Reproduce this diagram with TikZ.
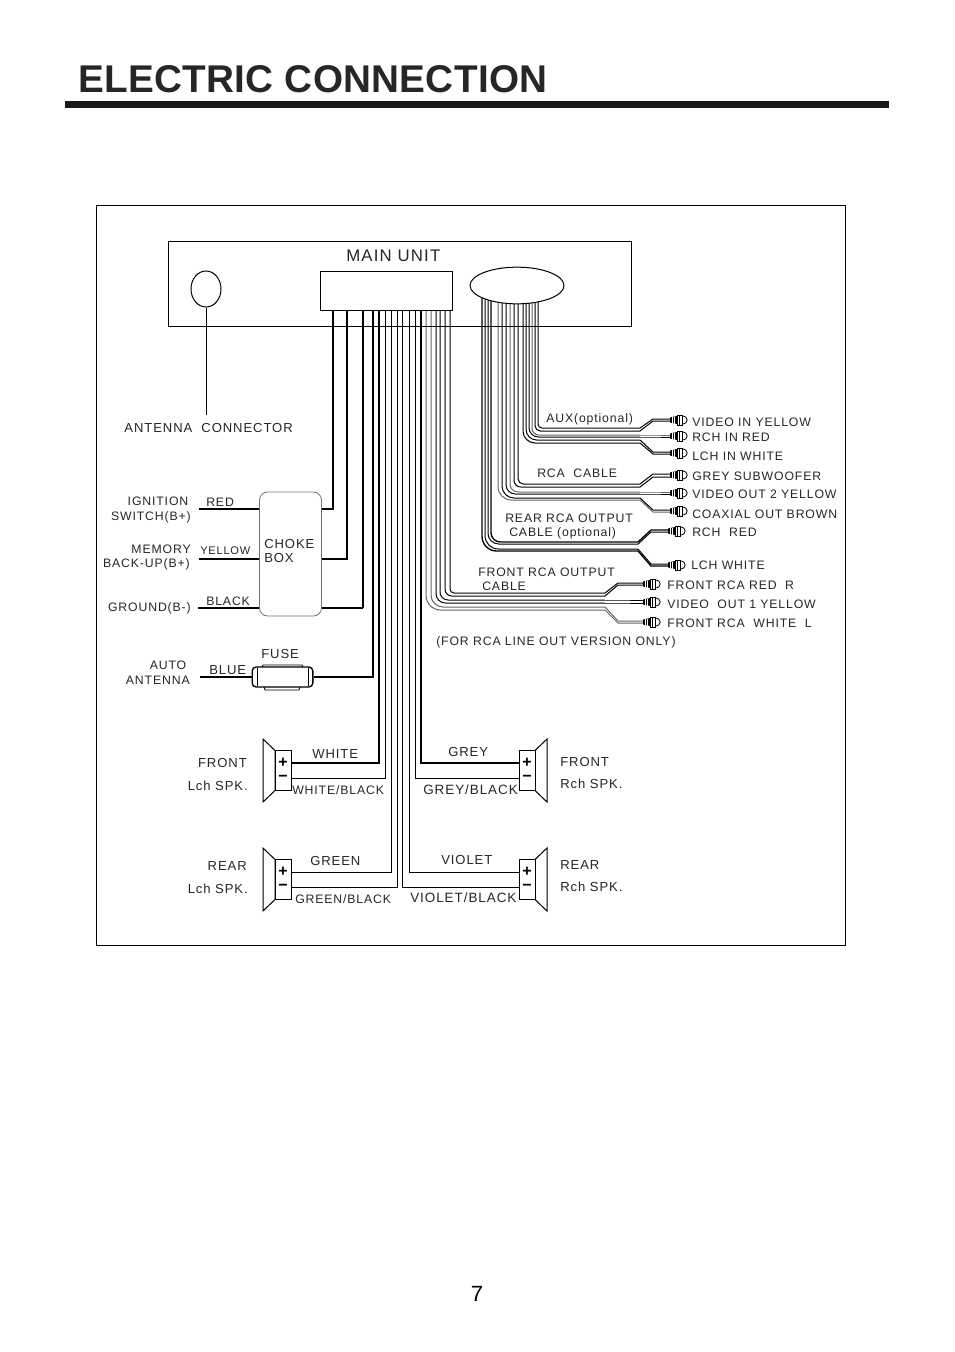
\documentclass[tikz,border=0pt]{standalone}
\usepackage{fontspec}
\setmainfont{Liberation Sans}
\newfontfamily\lblfont[LetterSpace=7]{Liberation Sans}
\newfontfamily\titlefont[LetterSpace=0.8]{Liberation Sans}
\usetikzlibrary{shapes.geometric,calc}

\tikzset{
  lbl/.style={inner sep=0pt, anchor=west, text height=7pt, text depth=0pt, text=black!85, font=\lblfont\fontsize{9.8}{11}\selectfont},
  lblsmall/.style={lbl, font=\lblfont\fontsize{9.2}{11}\selectfont},
  lblwide/.style={lbl, font=\lblfont\fontsize{10.1}{11}\selectfont},
  wire/.style={line width=0.75pt},
  greywire/.style={line width=0.75pt, black!60},
  midwire/.style={line width=1pt},
  heavywire/.style={line width=1.5pt},
  frameline/.style={line width=0.75pt},
  speaker/.pic={
    \draw[frameline, fill=white] (0,-31.5) -- (12,-20) -- (12,20) -- (0,31.5) -- cycle;
    \draw[frameline, fill=white] (12,-20) rectangle (28,20);
    \node[inner sep=0pt, font=\bfseries\fontsize{12}{12}\selectfont] (-sgnp) at (20,-8) {+};
    \node[inner sep=0pt, font=\bfseries\fontsize{12}{12}\selectfont] (-sgnm) at (20,8) {\char"2212};
  },
  rcaplug/.pic={
    \fill[black] (0,-2.5) -- (7,-4) -- (7,4) -- (0,2.5) -- cycle;
    \draw[white, line width=0.4pt] (2.3,-3) -- (2.3,3) (4.6,-3.5) -- (4.6,3.5);
    \draw[line width=0.6pt, fill=white] (7,-5) rectangle (12,5);
    \draw[line width=0.6pt] (9.5,-5) -- (9.5,5);
    \draw[line width=0.6pt] (12,-4) .. controls (19,-4) and (19,4) .. (12,4);
  }
}

% one wire of an rca bundle: x, y, end y, bend x, end x, radius, style
\newcommand{\rcawire}[7]{
  \coordinate (rcastart) at (#1,290);
  \coordinate (rcabend) at (#4,#2);
  \coordinate (rcaend) at (#5,#3);
  \draw[#7, rounded corners=#6pt] (rcastart) -- (#1,#2) -- (rcabend);
  \draw[#7] (rcabend) -- ($(#4,#3)+(13,0)$) -- (rcaend);
}

\begin{document}
\begin{tikzpicture}[x=0.75pt, y=-0.75pt]
\useasboundingbox (0,0) rectangle (954,1352);

% Title
\node[inner sep=0pt, anchor=base west, font=\titlefont\bfseries\fontsize{29}{30}\selectfont, text=black!85] (title) at (78,93) {ELECTRIC CONNECTION};
\fill[black!90] (65,101) rectangle (889,108);
\node[inner sep=0pt, font=\fontsize{16.5}{18}\selectfont] (pagenum) at (477,1294) {7};

% Frame and main unit
\draw[frameline] (96,205) rectangle (845,945.5);

% Wires to the rca bundles
\foreach \wx/\wy/\wend/\wrad/\wst in {
  538/428/419/3/wire, 535/431/421/4/wire, 532/435/435/5/greywire, 529/437/437/7/wire, 526/440/452/8/wire, 523/443/454/9/wire,
  518/484/474/4/wire, 514/487/477/5/wire, 510/492/492/6/greywire, 506/494/494/7/wire, 502/498/510/9/wire, 498/500/512/10/greywire}
  {\rcawire{\wx}{\wy}{\wend}{640}{670}{\wrad}{\wst}}
\foreach \wx/\wy/\wend/\wrad/\wst in {
  491/542/530/7/midwire, 488/544/532/8/wire, 485/549/564/10/wire, 482/551/566/11/midwire}
  {\rcawire{\wx}{\wy}{\wend}{638}{668}{\wrad}{\wst}}
\foreach \wx/\wy/\wend/\wrad/\wst in {
  450/593/583/3/wire, 445/596/585/5/wire, 440/600/600/6/wire, 436/603/603/7/wire, 431/607/621/9/greywire, 426/610/623/11/greywire}
  {\rcawire{\wx}{\wy}{\wend}{605}{643}{\wrad}{\wst}}

% Plugs
\foreach \px/\py/\pname in {670/420/vin, 670/436/rin, 670/453/lin, 670/475/sub, 670/493/vout, 670/511/coax, 668/531/rrch, 668/565/rlch, 643/584/fred, 643/602/fvid, 643/622/fwht}
  \pic (plug\pname) at (\px,\py) {rcaplug};

% Main unit
\draw[frameline] (168,241) rectangle (631,326);
\node[draw, frameline, fill=white, ellipse, inner sep=0pt, minimum width=22.5pt, minimum height=27pt] (antennajack) at (206,289) {};
\node[draw, frameline, fill=white, ellipse, inner sep=0pt, minimum width=70.5pt, minimum height=27.5pt] (rcahub) at (517,285.5) {};
\node[draw, frameline, fill=white, inner sep=0pt, minimum width=99pt, minimum height=29.25pt] (mainconn) at (386,290.5) {};
\node[inner sep=0pt, anchor=west, text height=8.7pt, text depth=0pt, text=black!85, font=\lblfont\fontsize{12.6}{14}\selectfont] (mainlbl) at (346,256) {MAIN UNIT};

% Antenna lead
\coordinate (antennaend) at (206,415);
\draw[wire] (antennajack) -- (antennaend);

% Choke box and fuse
\node[draw=black!55, line width=0.6pt, rounded corners=6pt, minimum width=46.5pt, minimum height=93pt, inner sep=0pt] (chokebox) at (290.5,554) {};
\node[draw, line width=1pt, rounded corners=3pt, fill=white, minimum width=45.5pt, minimum height=15pt, inner sep=0pt] (fuse) at (282.5,677) {};
\draw[line width=0.6pt] (257,668) -- (257,686) (308,668) -- (308,686);
\draw[line width=0.6pt] (262,667) -- (263,665) -- (302,665) -- (303,667);
\draw[line width=0.6pt] (264,687) -- (265,690) -- (299,690) -- (300,687);

% Speakers
\pic (flspk) at (263,770.5) {speaker};
\pic (rlspk) at (263,879.5) {speaker};
\pic[xscale=-1] (frspk) at (547,770.5) {speaker};
\pic[xscale=-1] (rrspk) at (547,879.5) {speaker};

% Wires out of the main connector
\foreach \pname/\px in {ign/333, mem/347, gnd/363, blue/373, wht/379, whtb/385, grn/391, grnb/397, vioc/402, vio/409, gryb/415, gry/421}
  \coordinate (pin\pname) at (\px,310);
\coordinate (chokeign) at (322,509);
\coordinate (chokemem) at (322,559);
\coordinate (chokegnd) at (322,608);
\coordinate (gndcorner) at (363,608);
\coordinate (flplus) at (291,763);
\coordinate (flminus) at (291,778);
\coordinate (rlplus) at (291,872);
\coordinate (rlminus) at (291,887);
\coordinate (frplus) at (519,763);
\coordinate (frminus) at (519,778);
\coordinate (rrplus) at (519,872);
\coordinate (rrminus) at (519,887);
\draw[midwire] (pinign) |- (chokeign);
\draw[heavywire] (pinmem) |- (chokemem);
\draw[midwire] (chokegnd) -- (gndcorner);
\draw[heavywire] (pingnd) -- (gndcorner);
\draw[heavywire] (pinblue) |- (fuse.east);
\draw[heavywire] (pinwht) |- (flplus);
\draw[wire] (pinwhtb) |- (flminus);
\draw[wire] (pingrn) |- (rlplus);
\draw[wire] (pingrnb) |- (rlminus);
\draw[wire] (pinvioc) |- (rrminus);
\draw[wire] (pinvio) |- (rrplus);
\draw[wire] (pingryb) |- (frminus);
\draw[heavywire] (pingry) |- (frplus);

% Leads on the left
\coordinate (redend) at (199,509);
\coordinate (yellowend) at (199,559);
\coordinate (blackend) at (198,608);
\coordinate (blueend) at (200,677);
\draw[midwire] (redend) -- (redend -| chokebox.west);
\draw[heavywire] (yellowend) -- (yellowend -| chokebox.west);
\draw[midwire] (blackend) -- (blackend -| chokebox.west);
\draw[heavywire] (blueend) -- (fuse.west);

% Labels
\node[lbl, anchor=east] (antlbl) at (293,428) {ANTENNA~~CONNECTOR};
\node[lblsmall] (auxlbl) at (546,418) {AUX(optional)};
\node[lblsmall] (rcalbl) at (537,473) {RCA~~CABLE};
\node[lblsmall] (rearlbl) at (505,518) {REAR RCA OUTPUT};
\node[lblsmall] (rearlblb) at (509,532) {CABLE (optional)};
\node[lblsmall] (frontlbl) at (478,572) {FRONT RCA OUTPUT};
\node[lblsmall] (frontlblb) at (482,586) {CABLE};
\node[lblsmall] (linelbl) at (436,641) {(FOR RCA LINE OUT VERSION ONLY)};
\node[lblsmall] (vinlbl) at (692,422) {VIDEO IN YELLOW};
\node[lblsmall] (rinlbl) at (692,437) {RCH IN RED};
\node[lblsmall] (linlbl) at (692,456) {LCH IN WHITE};
\node[lblsmall] (sublbl) at (692,476) {GREY SUBWOOFER};
\node[lblsmall] (voutlbl) at (692,494) {VIDEO OUT 2 YELLOW};
\node[lblsmall] (coaxlbl) at (692,514) {COAXIAL OUT BROWN};
\node[lblsmall] (rrchlbl) at (692,532) {RCH~~RED};
\node[lblsmall] (rlchlbl) at (691,565) {LCH WHITE};
\node[lblsmall] (fredlbl) at (667,585) {FRONT RCA RED~~R};
\node[lblsmall] (fvidlbl) at (667,604) {VIDEO~~OUT 1 YELLOW};
\node[lblsmall] (fwhtlbl) at (667,623) {FRONT RCA~~WHITE~~L};
\node[lblsmall, anchor=center] (ignlbl) at (158,501) {IGNITION};
\node[lblsmall, anchor=east] (ignlblb) at (191,516) {SWITCH(B+)};
\node[lblsmall, anchor=east] (memlbl) at (191,549) {MEMORY};
\node[lblsmall, anchor=east] (memlblb) at (190,563) {BACK-UP(B+)};
\node[lblsmall, anchor=east] (gndlbl) at (191,607) {GROUND(B-)};
\node[lblsmall] (redlbl) at (206,502) {RED};
\node[lbl, font=\lblfont\fontsize{8.3}{10}\selectfont] (yellowlbl) at (200,550) {YELLOW};
\node[lblsmall] (blacklbl) at (206,601) {BLACK};
\node[lbl] (chokelbl) at (264,544) {CHOKE};
\node[lbl] (chokelblb) at (264,558) {BOX};
\node[lbl] (fuselbl) at (261,654) {FUSE};
\node[lbl] (bluelbl) at (209,670) {BLUE};
\node[lblsmall, anchor=center] (autolbl) at (168,665) {AUTO};
\node[lblsmall, anchor=east] (autolblb) at (190,680) {ANTENNA};
\node[lbl] (whitelbl) at (312,754) {WHITE};
\node[lblsmall] (whiteblbl) at (292,790) {WHITE/BLACK};
\node[lbl, anchor=east] (flbl) at (247,763) {FRONT};
\node[lbl, anchor=east] (flblb) at (248,786) {Lch SPK.};
\node[lbl] (greylbl) at (448,752) {GREY};
\node[lblwide] (greyblbl) at (423,790) {GREY/BLACK};
\node[lbl] (frlbl) at (560,762) {FRONT};
\node[lbl] (frlblb) at (560,784) {Rch SPK.};
\node[lbl] (greenlbl) at (310,861) {GREEN};
\node[lblsmall] (greenblbl) at (295,899) {GREEN/BLACK};
\node[lbl] (violetlbl) at (441,860) {VIOLET};
\node[lblwide] (violetblbl) at (410,898) {VIOLET/BLACK};
\node[lbl, anchor=east] (rllbl) at (247,866) {REAR};
\node[lbl, anchor=east] (rllblb) at (248,889) {Lch SPK.};
\node[lbl] (rrlbl) at (560,865) {REAR};
\node[lbl] (rrlblb) at (560,887) {Rch SPK.};

\end{tikzpicture}
\end{document}
